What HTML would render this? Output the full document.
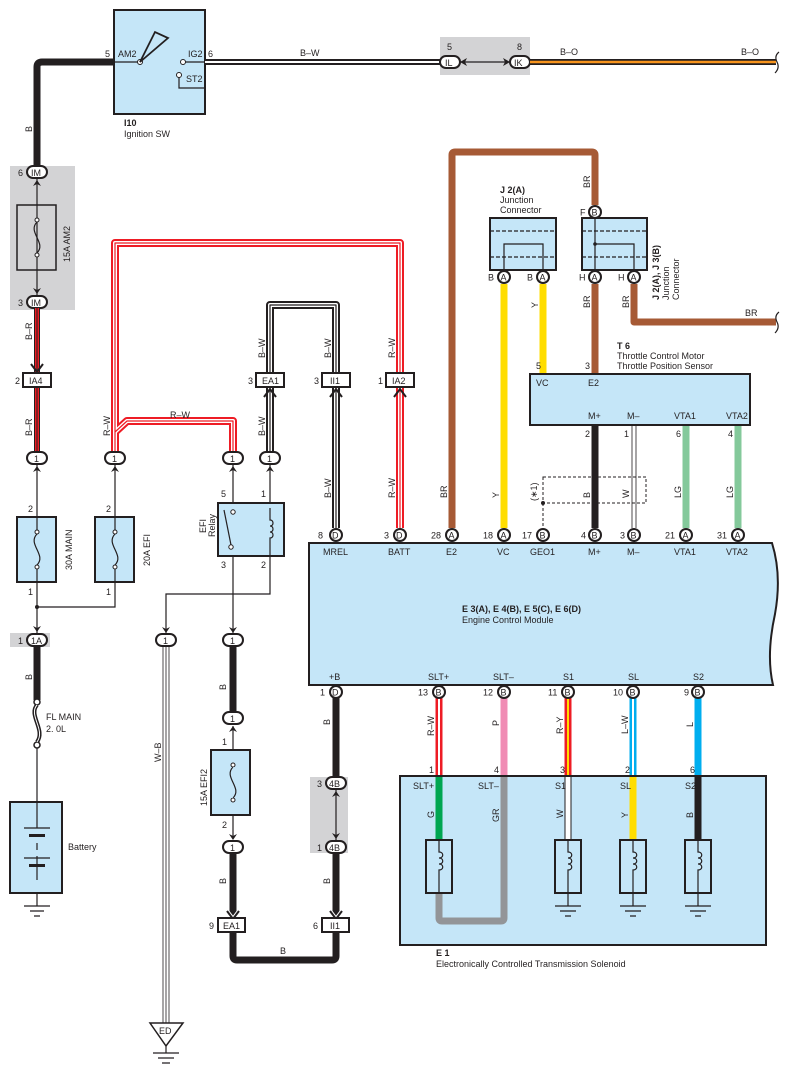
<!DOCTYPE html>
<html><head><meta charset="utf-8"><style>
html,body{margin:0;padding:0;background:#fff}
svg{display:block}
text{font-family:"Liberation Sans",sans-serif;font-size:9px;fill:#231f20}
.b{font-weight:bold}
.box{fill:#c5e6f8;stroke:#231f20;stroke-width:2}
.t{stroke:#231f20;stroke-width:1.2;fill:none}
.n{fill:none;stroke-linejoin:round}
.ov{fill:#fff;stroke:#231f20;stroke-width:2}
</style></head><body>
<svg width="789" height="1076" viewBox="0 0 789 1076" xmlns="http://www.w3.org/2000/svg">
<rect x="440" y="37" width="90" height="38" fill="#d3d3d5"/>
<rect x="10" y="166" width="65" height="144" fill="#d3d3d5"/>
<rect x="10" y="633" width="40" height="14" fill="#d3d3d5"/>
<rect x="310" y="777" width="38" height="76" fill="#d3d3d5"/>

<rect class="box" x="114" y="10" width="91" height="104"/>
<path class="n" d="M37,166 V67 Q37,62 42,62 H114" stroke="#231f20" stroke-width="7"/>
<line class="t" x1="114" y1="62" x2="140" y2="62"/>
<circle cx="140" cy="62" r="2.5" fill="#fff" stroke="#231f20"/>
<path d="M140,62 L155,32 L168,38 Z" fill="none" stroke="#231f20" stroke-width="1.8"/>
<circle cx="183" cy="62" r="2.5" fill="#fff" stroke="#231f20"/>
<line class="t" x1="185" y1="62" x2="205" y2="62"/>
<circle cx="179" cy="75" r="2.5" fill="#fff" stroke="#231f20"/>
<path class="t" d="M179,77 V88 H205"/>
<text x="105" y="57">5</text><text x="118" y="57">AM2</text>
<text x="188" y="57">IG2</text><text x="208" y="57">6</text>
<text x="186" y="82">ST2</text>
<text x="124" y="126" class="b">I10</text><text x="124" y="137">Ignition SW</text>
<text transform="translate(32,132) rotate(-90)">B</text>

<path class="n" d="M205,62 H442" stroke="#231f20" stroke-width="6"/>
<path class="n" d="M205,62 H442" stroke="#fff" stroke-width="2"/>
<text x="300" y="56">B–W</text>
<line class="t" x1="460" y1="62" x2="510" y2="62"/>
<path d="M460,62 l7,-4 l-2,4 l2,4z" fill="#231f20"/><path d="M510,62 l-7,-4 l2,4 l-2,4z" fill="#231f20"/>
<rect class="ov" x="440" y="56" width="20" height="12" rx="6"/><text x="445" y="66">IL</text>
<rect class="ov" x="510" y="56" width="20" height="12" rx="6"/><text x="514" y="66">IK</text>
<text x="447" y="50">5</text><text x="517" y="50">8</text>
<path class="n" d="M530,62 H776" stroke="#231f20" stroke-width="6"/>
<path class="n" d="M530,62 H776" stroke="#f7941d" stroke-width="2.5"/>
<text x="560" y="55">B–O</text><text x="741" y="55">B–O</text>
<path class="t" d="M779,52 Q774,56 777,62 Q780,68 775,73" stroke-width="2"/>

<line class="t" x1="37" y1="178" x2="37" y2="296"/>
<rect class="ov" x="27" y="166" width="20" height="12" rx="6"/><text x="31" y="176">IM</text><text x="18" y="176">6</text>
<path d="M33,186 l4,-6 l4,6 l-4,-2z" fill="#231f20"/>
<path d="M33,288 l4,6 l4,-6 l-4,2z" fill="#231f20"/>
<rect x="17" y="205" width="39" height="65" fill="none" stroke="#231f20" stroke-width="1.5"/>
<circle cx="37" cy="220" r="2" fill="#fff" stroke="#231f20"/><circle cx="37" cy="255" r="2" fill="#fff" stroke="#231f20"/>
<path class="t" d="M37,222 C27,232 47,243 37,253"/>
<text transform="translate(70,262) rotate(-90)">15A AM2</text>
<rect class="ov" x="27" y="296" width="20" height="12" rx="6"/><text x="31" y="306">IM</text><text x="18" y="306">3</text>

<path class="n" d="M37,308 V452" stroke="#231f20" stroke-width="6"/>
<path class="n" d="M37,308 V452" stroke="#ee1c25" stroke-width="4"/>
<path class="n" d="M37,308 V452" stroke="#231f20" stroke-width="1"/>
<path d="M31,364 l6,8 l6,-8" fill="none" stroke="#231f20" stroke-width="2"/>
<rect x="23" y="373" width="28" height="14" fill="#fff" stroke="#231f20" stroke-width="2"/><text x="29" y="384">IA4</text><text x="15" y="384">2</text>
<text transform="translate(32,340) rotate(-90)">B–R</text>
<text transform="translate(32,436) rotate(-90)">B–R</text>

<g class="n">
<path d="M115,452 V243 H400 V528 M115,432 L127,421 H233 V452" stroke="#ee1c25" stroke-width="8" fill="none"/>
<path d="M115,452 V243 H400 V528 M115,432 L127,421 H233 V452" stroke="#fff" stroke-width="4" fill="none"/>
<path d="M115,452 V243 H400 V528 M115,432 L127,421 H233 V452" stroke="#ee1c25" stroke-width="1.2" fill="none"/>
</g>
<text x="170" y="418">R–W</text>
<text transform="translate(110,436) rotate(-90)">R–W</text>
<text transform="translate(395,358) rotate(-90)">R–W</text>
<text transform="translate(395,498) rotate(-90)">R–W</text>
<rect x="386" y="373" width="28" height="14" fill="#fff" stroke="#231f20" stroke-width="2"/><text x="392" y="384">IA2</text><text x="378" y="384">1</text>
<path d="M394,397 l6,-8 l6,8" fill="none" stroke="#231f20" stroke-width="2"/>

<g class="n" fill="none">
<path d="M270,452 V305 H336 V528" stroke="#231f20" stroke-width="8"/>
<path d="M270,452 V305 H336 V528" stroke="#fff" stroke-width="4"/>
<path d="M270,452 V305 H336 V528" stroke="#231f20" stroke-width="1.2"/>
</g>
<rect x="256" y="373" width="28" height="14" fill="#fff" stroke="#231f20" stroke-width="2"/><text x="262" y="384">EA1</text><text x="248" y="384">3</text>
<rect x="322" y="373" width="28" height="14" fill="#fff" stroke="#231f20" stroke-width="2"/><text x="330" y="384">II1</text><text x="314" y="384">3</text>
<path d="M264,397 l6,-8 l6,8 M330,397 l6,-8 l6,8" fill="none" stroke="#231f20" stroke-width="2"/>
<text transform="translate(265,358) rotate(-90)">B–W</text>
<text transform="translate(331,358) rotate(-90)">B–W</text>
<text transform="translate(265,436) rotate(-90)">B–W</text>
<text transform="translate(331,498) rotate(-90)">B–W</text>

<g>
<rect class="ov" x="27" y="452" width="20" height="12" rx="6"/><text x="34" y="462">1</text>
<rect class="ov" x="105" y="452" width="20" height="12" rx="6"/><text x="112" y="462">1</text>
<rect class="ov" x="223" y="452" width="20" height="12" rx="6"/><text x="230" y="462">1</text>
<rect class="ov" x="260" y="452" width="20" height="12" rx="6"/><text x="267" y="462">1</text>
</g>
<path d="M33,472 l4,-6 l4,6 l-4,-2z M111,472 l4,-6 l4,6 l-4,-2z M229,472 l4,-6 l4,6 l-4,-2z M266,472 l4,-6 l4,6 l-4,-2z" fill="#231f20"/>

<path class="t" d="M37,464 V517 M37,582 V636 M115,464 V517 M115,582 V607 H37"/>
<circle cx="37" cy="607" r="2" fill="#231f20"/>
<rect class="box" x="17" y="517" width="39" height="65"/>
<rect class="box" x="95" y="517" width="39" height="65"/>
<circle cx="37" cy="532" r="2" fill="#fff" stroke="#231f20"/><circle cx="37" cy="567" r="2" fill="#fff" stroke="#231f20"/>
<circle cx="115" cy="532" r="2" fill="#fff" stroke="#231f20"/><circle cx="115" cy="567" r="2" fill="#fff" stroke="#231f20"/>
<line class="t" x1="37" y1="517" x2="37" y2="530"/><line class="t" x1="37" y1="569" x2="37" y2="582"/>
<line class="t" x1="115" y1="517" x2="115" y2="530"/><line class="t" x1="115" y1="569" x2="115" y2="582"/>
<path class="t" d="M37,534 C27,544 47,555 37,565 M115,534 C105,544 125,555 115,565"/>
<text x="28" y="512">2</text><text x="106" y="512">2</text>
<text x="28" y="595">1</text><text x="106" y="595">1</text>
<text transform="translate(72,570) rotate(-90)">30A MAIN</text>
<text transform="translate(150,566) rotate(-90)">20A EFI</text>
<path d="M33,626 l4,6 l4,-6 l-4,2z" fill="#231f20"/>
<rect class="ov" x="27" y="634" width="20" height="12" rx="6"/><text x="31" y="644">1A</text><text x="18" y="644">1</text>
<text transform="translate(32,680) rotate(-90)">B</text>

<path class="n" d="M37,646 V700" stroke="#231f20" stroke-width="7"/>
<circle cx="37" cy="702" r="3" fill="#fff" stroke="#231f20" stroke-width="1.5"/>
<circle cx="37" cy="745" r="3" fill="#fff" stroke="#231f20" stroke-width="1.5"/>
<path d="M37,705 C28,715 46,730 37,742" fill="none" stroke="#231f20" stroke-width="4"/>
<path d="M37,705 C28,715 46,730 37,742" fill="none" stroke="#fff" stroke-width="1"/>
<text x="46" y="720">FL MAIN</text><text x="46" y="732">2. 0L</text>
<line class="t" x1="37" y1="748" x2="37" y2="802"/>
<rect class="box" x="10" y="802" width="52" height="91"/>
<path class="t" d="M37,802 V828 M24,828 H50 M37,843 V850 M37,856 V880 M24,858 H50"/>
<rect x="29" y="834" width="16" height="3" fill="#231f20"/><rect x="29" y="864" width="16" height="3" fill="#231f20"/>
<text x="68" y="850">Battery</text>
<path class="t" d="M37,893 V906 M24,906 H50 M30,911 H44 M34,916 H40"/>

<line class="t" x1="233" y1="464" x2="233" y2="636"/>
<path class="t" d="M270,464 V570 V594 H166 V636"/>
<rect class="box" x="218" y="503" width="66" height="53"/>
<circle cx="233" cy="512" r="2.2" fill="#fff" stroke="#231f20"/><circle cx="231" cy="547" r="2.2" fill="#fff" stroke="#231f20"/>
<line class="t" x1="224" y1="510" x2="231" y2="545"/>
<path class="t" d="M270,508 V520 c4,0 4,6 0,6 c4,0 4,6 0,6 c4,0 4,6 0,6 V556"/>
<text x="221" y="497">5</text><text x="261" y="497">1</text>
<text x="221" y="568">3</text><text x="261" y="568">2</text>
<text transform="translate(206,533) rotate(-90)">EFI</text>
<text transform="translate(215,537) rotate(-90)">Relay</text>
<path d="M162,627 l4,6 l4,-6 l-4,2z M229,627 l4,6 l4,-6 l-4,2z" fill="#231f20"/>
<rect class="ov" x="156" y="634" width="20" height="12" rx="6"/><text x="163" y="644">1</text>
<rect class="ov" x="223" y="634" width="20" height="12" rx="6"/><text x="230" y="644">1</text>

<path d="M163,646 V1030 M166,646 V1030 M169,646 V1030" stroke="#231f20" stroke-width="0.8" fill="none"/>
<text transform="translate(161,762) rotate(-90)">W–B</text>
<path d="M150,1023 H183 L166,1046 Z" fill="#fff" stroke="#231f20" stroke-width="1.5"/>
<text x="159" y="1034">ED</text>
<path class="t" d="M166,1046 V1053 M153,1053 H179 M158,1058 H174 M162,1063 H170"/>

<path class="n" d="M233,646 V712" stroke="#231f20" stroke-width="7"/>
<rect class="ov" x="223" y="712" width="20" height="12" rx="6"/><text x="230" y="722">1</text>
<text transform="translate(226,690) rotate(-90)">B</text>
<path d="M229,732 l4,-6 l4,6 l-4,-2z" fill="#231f20"/>
<line class="t" x1="233" y1="726" x2="233" y2="838"/>
<rect class="box" x="211" y="750" width="39" height="65"/>
<circle cx="233" cy="765" r="2" fill="#fff" stroke="#231f20"/><circle cx="233" cy="800" r="2" fill="#fff" stroke="#231f20"/>
<rect x="231" y="767" width="4" height="31" fill="#c5e6f8"/>
<path class="t" d="M233,767 C223,777 243,788 233,798"/>
<text x="222" y="745">1</text><text x="222" y="828">2</text>
<text transform="translate(207,806) rotate(-90)">15A EFI2</text>
<path d="M229,834 l4,6 l4,-6 l-4,2z" fill="#231f20"/>
<rect class="ov" x="223" y="841" width="20" height="12" rx="6"/><text x="230" y="851">1</text>
<path class="n" d="M233,853 V956 Q233,960 237,960 H332 Q336,960 336,956 V931" stroke="#231f20" stroke-width="7" fill="none"/>
<path d="M227,911 l6,8 l6,-8" fill="none" stroke="#fff" stroke-width="4"/>
<path d="M227,911 l6,8 l6,-8" fill="none" stroke="#231f20" stroke-width="2"/>
<text transform="translate(226,884) rotate(-90)">B</text>
<rect x="218" y="918" width="27" height="14" fill="#fff" stroke="#231f20" stroke-width="2"/><text x="223" y="929">EA1</text><text x="209" y="929">9</text>
<text x="280" y="954">B</text>

<path class="n" d="M336,692 V777" stroke="#231f20" stroke-width="7"/>
<text transform="translate(330,725) rotate(-90)">B</text>
<rect class="ov" x="326" y="777" width="20" height="12" rx="6"/><text x="329" y="787">4B</text><text x="317" y="787">3</text>
<line class="t" x1="336" y1="789" x2="336" y2="841"/>
<path d="M332,797 l4,-6 l4,6 l-4,-2z M332,833 l4,6 l4,-6 l-4,2z" fill="#231f20"/>
<rect class="ov" x="326" y="841" width="20" height="12" rx="6"/><text x="329" y="851">4B</text><text x="317" y="851">1</text>
<path class="n" d="M336,853 V918" stroke="#231f20" stroke-width="7"/>
<path d="M330,911 l6,8 l6,-8" fill="none" stroke="#fff" stroke-width="4"/>
<path d="M330,911 l6,8 l6,-8" fill="none" stroke="#231f20" stroke-width="2"/>
<text transform="translate(330,884) rotate(-90)">B</text>
<rect x="322" y="918" width="27" height="14" fill="#fff" stroke="#231f20" stroke-width="2"/><text x="330" y="929">II1</text><text x="313" y="929">6</text>

<path class="n" d="M452,528 V155 Q452,152 455,152 H592 Q595,152 595,155 V205" stroke="#a65a35" stroke-width="7" fill="none"/>
<path class="n" d="M595,284 V374" stroke="#a65a35" stroke-width="7"/>
<path class="n" d="M634,284 V322 H776" stroke="#a65a35" stroke-width="7" fill="none"/>
<path class="t" d="M779,312 Q774,316 777,322 Q780,328 775,333" stroke-width="2"/>
<text transform="translate(590,188) rotate(-90)">BR</text>
<text transform="translate(590,308) rotate(-90)">BR</text>
<text transform="translate(629,308) rotate(-90)">BR</text>
<text x="745" y="316">BR</text>
<text transform="translate(447,498) rotate(-90)">BR</text>

<rect class="box" x="490" y="218" width="66" height="52"/>
<path d="M490,231 H556 M490,257 H556" stroke="#231f20" stroke-dasharray="4,2" stroke-width="1.2"/>
<path class="t" d="M504,270 V244 H543 V270"/>
<text x="500" y="193" class="b">J 2(A)</text><text x="500" y="203">Junction</text><text x="500" y="213">Connector</text>
<rect class="box" x="582" y="218" width="65" height="52"/>
<path d="M582,231 H647 M582,257 H647" stroke="#231f20" stroke-dasharray="4,2" stroke-width="1.2"/>
<path class="t" d="M595,218 V270 M595,244 H634 V270"/><circle cx="595" cy="244" r="1.8" fill="#231f20"/>
<text transform="translate(659,300) rotate(-90)" class="b">J 2(A), J 3(B)</text>
<text transform="translate(669,300) rotate(-90)">Junction</text>
<text transform="translate(679,300) rotate(-90)">Connector</text>
<g>
<circle class="ov" cx="595" cy="212" r="6"/><text x="591.5" y="215.5">B</text><text x="580" y="215.5">F</text>
<circle class="ov" cx="504" cy="277" r="6"/><text x="500.5" y="280.5">A</text><text x="488" y="280.5">B</text>
<circle class="ov" cx="543" cy="277" r="6"/><text x="539.5" y="280.5">A</text><text x="527" y="280.5">B</text>
<circle class="ov" cx="595" cy="277" r="6"/><text x="591.5" y="280.5">A</text><text x="579" y="280.5">H</text>
<circle class="ov" cx="634" cy="277" r="6"/><text x="630.5" y="280.5">A</text><text x="618" y="280.5">H</text>
</g>
<path d="M504,284 V528 M543,284 V374" stroke="#ffdd00" stroke-width="7"/>
<text transform="translate(538,308) rotate(-90)">Y</text>
<text transform="translate(499,498) rotate(-90)">Y</text>
<text x="536" y="369">5</text><text x="585" y="369">3</text>

<text x="617" y="349" class="b">T 6</text><text x="617" y="359">Throttle Control Motor</text><text x="617" y="369">Throttle Position Sensor</text>
<rect class="box" x="530" y="374" width="220" height="51"/>
<text x="536" y="386">VC</text><text x="588" y="386">E2</text>
<text x="588" y="419">M+</text><text x="627" y="419">M–</text><text x="674" y="419">VTA1</text><text x="726" y="419">VTA2</text>
<path d="M595,426 V528" stroke="#231f20" stroke-width="7"/>
<path d="M632,426 V528 M636,426 V528" stroke="#231f20" stroke-width="0.8"/>
<path d="M686,426 V528 M738,426 V528" stroke="#84c99b" stroke-width="7"/>
<text x="585" y="437">2</text><text x="624" y="437">1</text><text x="676" y="437">6</text><text x="728" y="437">4</text>
<text transform="translate(590,498) rotate(-90)">B</text>
<text transform="translate(629,498) rotate(-90)">W</text>
<text transform="translate(681,498) rotate(-90)">LG</text>
<text transform="translate(733,498) rotate(-90)">LG</text>
<rect x="543" y="477" width="103" height="26" fill="none" stroke="#231f20" stroke-dasharray="3,2" stroke-width="1"/>
<path d="M543,503 V528" stroke="#231f20" stroke-dasharray="3,2" stroke-width="1"/>
<circle cx="543" cy="503" r="2" fill="#231f20"/>
<text transform="translate(537,501) rotate(-90)">(∗1)</text>

<path d="M309,543 H772 Q782,575 775,614 Q766,655 773,685 H309 Z" fill="#c5e6f8" stroke="#231f20" stroke-width="2"/>
<g>
<circle class="ov" cx="336" cy="535" r="6"/><text x="332" y="538.5">D</text><text x="318" y="538.5">8</text>
<circle class="ov" cx="400" cy="535" r="6"/><text x="396" y="538.5">D</text><text x="384" y="538.5">3</text>
<circle class="ov" cx="452" cy="535" r="6"/><text x="448.5" y="538.5">A</text><text x="431" y="538.5">28</text>
<circle class="ov" cx="504" cy="535" r="6"/><text x="500.5" y="538.5">A</text><text x="483" y="538.5">18</text>
<circle class="ov" cx="543" cy="535" r="6"/><text x="539.5" y="538.5">B</text><text x="522" y="538.5">17</text>
<circle class="ov" cx="595" cy="535" r="6"/><text x="591.5" y="538.5">B</text><text x="581" y="538.5">4</text>
<circle class="ov" cx="634" cy="535" r="6"/><text x="630.5" y="538.5">B</text><text x="620" y="538.5">3</text>
<circle class="ov" cx="686" cy="535" r="6"/><text x="682.5" y="538.5">A</text><text x="665" y="538.5">21</text>
<circle class="ov" cx="738" cy="535" r="6"/><text x="734.5" y="538.5">A</text><text x="717" y="538.5">31</text>
</g>
<text x="323" y="555">MREL</text><text x="388" y="555">BATT</text><text x="446" y="555">E2</text><text x="497" y="555">VC</text>
<text x="530" y="555">GEO1</text><text x="588" y="555">M+</text><text x="627" y="555">M–</text><text x="674" y="555">VTA1</text><text x="726" y="555">VTA2</text>
<text x="462" y="612" class="b">E 3(A), E 4(B), E 5(C), E 6(D)</text>
<text x="462" y="623">Engine Control Module</text>
<text x="329" y="680">+B</text><text x="428" y="680">SLT+</text><text x="493" y="680">SLT–</text><text x="563" y="680">S1</text><text x="628" y="680">SL</text><text x="693" y="680">S2</text>

<path d="M439,698 V776" stroke="#ee1c25" stroke-width="7"/><path d="M439,698 V776" stroke="#fff" stroke-width="2"/>
<path d="M504,698 V776" stroke="#f08cb4" stroke-width="7"/>
<path d="M568,698 V776" stroke="#ee1c25" stroke-width="7"/><path d="M568,698 V776" stroke="#ffdd00" stroke-width="2"/>
<path d="M633,698 V776" stroke="#00aeef" stroke-width="7"/><path d="M633,698 V776" stroke="#fff" stroke-width="2"/>
<path d="M698,698 V776" stroke="#00aeef" stroke-width="7"/>
<g>
<circle class="ov" cx="336" cy="692" r="6"/><text x="332" y="695.5">D</text><text x="320" y="695.5">1</text>
<circle class="ov" cx="439" cy="692" r="6"/><text x="435.5" y="695.5">B</text><text x="418" y="695.5">13</text>
<circle class="ov" cx="504" cy="692" r="6"/><text x="500.5" y="695.5">B</text><text x="483" y="695.5">12</text>
<circle class="ov" cx="568" cy="692" r="6"/><text x="564.5" y="695.5">B</text><text x="548" y="695.5">11</text>
<circle class="ov" cx="633" cy="692" r="6"/><text x="629.5" y="695.5">B</text><text x="613" y="695.5">10</text>
<circle class="ov" cx="698" cy="692" r="6"/><text x="694.5" y="695.5">B</text><text x="684" y="695.5">9</text>
</g>
<text transform="translate(434,736) rotate(-90)">R–W</text>
<text transform="translate(499,726) rotate(-90)">P</text>
<text transform="translate(563,734) rotate(-90)">R–Y</text>
<text transform="translate(628,734) rotate(-90)">L–W</text>
<text transform="translate(693,727) rotate(-90)">L</text>
<text x="429" y="773">1</text><text x="494" y="773">4</text><text x="560" y="773">3</text><text x="625" y="773">2</text><text x="690" y="773">6</text>

<rect class="box" x="400" y="776" width="366" height="169"/>
<path d="M439,777 V840" stroke="#00a651" stroke-width="7"/>
<path d="M439,893 V918 Q439,921 442,921 H501 Q504,921 504,918 V777" stroke="#939598" stroke-width="7" fill="none"/>
<path d="M568,777 V840" stroke="#231f20" stroke-width="7"/><path d="M568,777 V840" stroke="#fff" stroke-width="5"/>
<path d="M633,777 V840" stroke="#ffdd00" stroke-width="7"/>
<path d="M698,777 V840" stroke="#231f20" stroke-width="7"/>
<text x="413" y="789">SLT+</text><text x="478" y="789">SLT–</text><text x="555" y="789">S1</text><text x="620" y="789">SL</text><text x="685" y="789">S2</text>
<text transform="translate(434,818) rotate(-90)">G</text>
<text transform="translate(499,822) rotate(-90)">GR</text>
<text transform="translate(563,818) rotate(-90)">W</text>
<text transform="translate(628,818) rotate(-90)">Y</text>
<text transform="translate(693,818) rotate(-90)">B</text>
<g fill="none" stroke="#231f20">
<rect x="426" y="840" width="26" height="53" stroke-width="2"/>
<rect x="555" y="840" width="26" height="53" stroke-width="2"/>
<rect x="620" y="840" width="26" height="53" stroke-width="2"/>
<rect x="685" y="840" width="26" height="53" stroke-width="2"/>
<path stroke-width="1.2" d="M439,840 V852 c5,0 5,6 0,6 c5,0 5,6 0,6 c5,0 5,6 0,6 V893
M568,840 V852 c5,0 5,6 0,6 c5,0 5,6 0,6 c5,0 5,6 0,6 V906 M555,906 H581 M560,911 H576 M565,916 H571
M633,840 V852 c5,0 5,6 0,6 c5,0 5,6 0,6 c5,0 5,6 0,6 V906 M620,906 H646 M625,911 H641 M630,916 H636
M698,840 V852 c5,0 5,6 0,6 c5,0 5,6 0,6 c5,0 5,6 0,6 V906 M685,906 H711 M690,911 H706 M695,916 H701"/>
</g>
<text x="436" y="956" class="b">E 1</text>
<text x="436" y="967">Electronically Controlled Transmission Solenoid</text>
</svg>
</body></html>
